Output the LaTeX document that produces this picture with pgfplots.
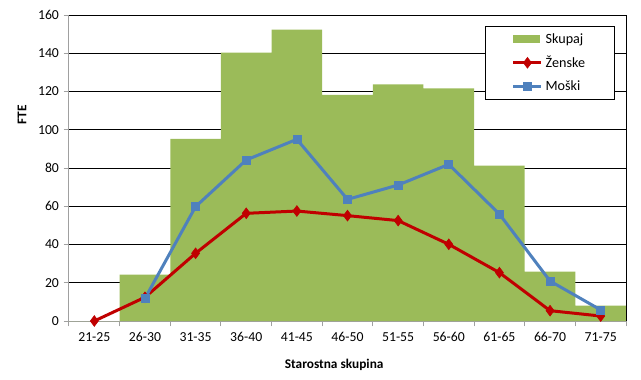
\documentclass[border=0pt]{standalone}
\usepackage{pgfplots}
\pgfplotsset{compat=1.18}
\usepackage{fontspec}
\setmainfont{Carlito}
\definecolor{cgreen}{HTML}{9BBB59}
\definecolor{cred}{HTML}{C00000}
\definecolor{cblue}{HTML}{4F81BD}
\definecolor{cgray}{HTML}{A0A0A0}
\pgfplotsset{
  greenleg/.style={legend image code/.code={\fill[cgreen] (0pt,-3pt) rectangle (20pt,3pt);}},
  lineleg/.style={legend image code/.code={\draw[##1] (0pt,0pt) -- (21pt,0pt); \draw[##1] plot coordinates {(10.5pt,0pt)};}},
}
\begin{document}
\begin{tikzpicture}[x=0.75pt,y=0.75pt]
\useasboundingbox (-69,-58) rectangle (572,321);
\begin{axis}[
  at={(0,0)}, anchor=south west,
  scale only axis,
  width=417.75pt, height=229.5pt,
  xmin=-0.5, xmax=10.5,
  ymin=0, ymax=160,
  ytick={0,20,...,160},
  xtick={0,...,10},
  xticklabels={21-25,26-30,31-35,36-40,41-45,46-50,51-55,56-60,61-65,66-70,71-75},
  minor xtick={-0.5,0.5,...,10.5},
  major x tick style={draw=none},
  minor x tick style={cgray, line width=0.75pt},
  y tick style={cgray, line width=0.75pt},
  tick align=outside,
  major tick length=4pt,
  minor tick length=4pt,
  xtick pos=bottom, ytick pos=left,
  ymajorgrids,
  grid style={black, line width=0.75pt},
  axis x line*=bottom,
  axis y line*=left,
  x axis line style={cgray, line width=0.75pt},
  y axis line style={cgray, line width=0.75pt},
  tick label style={font=\fontsize{10.3}{12}\selectfont},
  /pgf/number format/assume math mode=true,
  xticklabel style={yshift=-1pt},
  ylabel={\textbf{FTE}},
  xlabel={\textbf{Starostna skupina}},
  label style={font=\fontsize{10}{12}\selectfont},
  ylabel style={yshift=2pt, xshift=40pt},
  xlabel style={yshift=-6pt, xshift=-10pt},
  legend style={at={(0.98,0.965)}, anchor=north east, draw=black, line width=0.75pt,
    inner xsep=20pt, inner ysep=3.5pt, row sep=4pt,
    font=\fontsize{10.6}{12}\selectfont, cells={anchor=west}},
  legend cell align=left,
  clip=false,
]
\addplot[ybar, bar width=1, bar shift=0pt, fill=cgreen, draw=none, greenleg]
  coordinates {(0,0) (1,24.2) (2,95.2) (3,140.3) (4,152.3) (5,118.2) (6,123.7) (7,121.7) (8,81.2) (9,25.8) (10,8.0)};
\addlegendentry{Skupaj}
\addplot[cred, line width=2.25pt, mark=diamond*, mark size=4pt, mark options={solid, fill=cred, line width=0.5pt}, lineleg]
  coordinates {(0,0) (1,12.4) (2,35.4) (3,56.3) (4,57.5) (5,55.1) (6,52.5) (7,40.1) (8,25.3) (9,5.4) (10,2.6)};
\addlegendentry{Ženske}
\addplot[cblue, line width=2.25pt, mark=square*, mark size=3pt, mark options={solid, fill=cblue, line width=0.5pt}, lineleg]
  coordinates {(1,11.8) (2,59.8) (3,84.2) (4,95.0) (5,63.6) (6,71.1) (7,81.9) (8,55.9) (9,20.9) (10,5.8)};
\addlegendentry{Moški}
\draw[black, line width=0.75pt] (rel axis cs:1,0) -- (rel axis cs:1,1);
\end{axis}
\end{tikzpicture}
\end{document}
